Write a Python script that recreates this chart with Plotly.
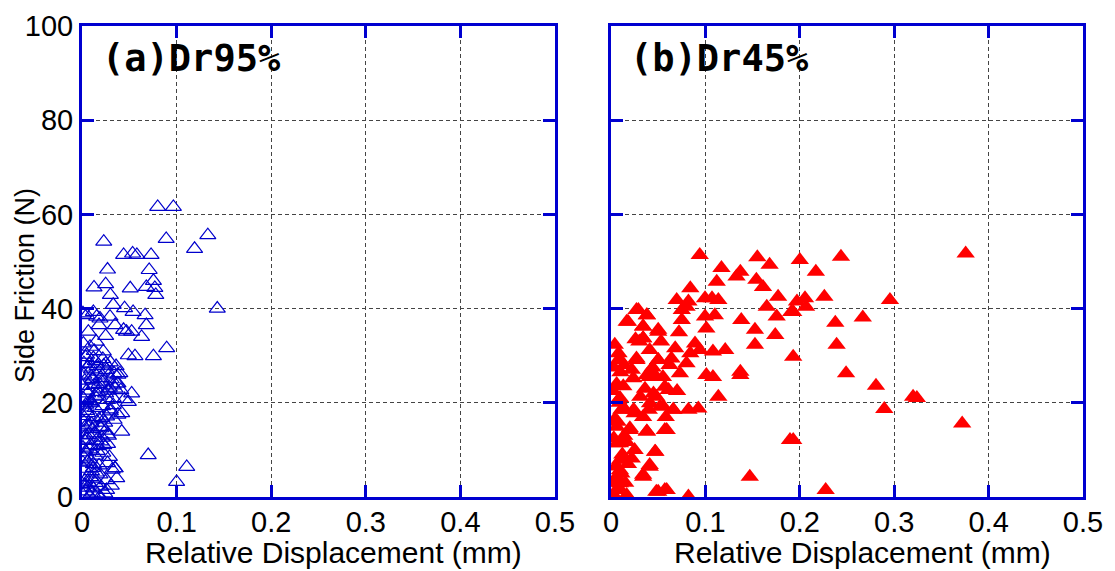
import plotly.graph_objects as go

# Relative displacement (mm) and side friction (N), Dr = 95 %
dr95_disp = [
    0.080, 0.0966, 0.023, 0.089, 0.133, 0.119, 0.044, 0.0535, 0.058, 0.073,
    0.027, 0.071, 0.0755, 0.0127, 0.025, 0.051, 0.068, 0.077, 0.078, 0.030,
    0.143, 0.001, 0.012, 0.033, 0.045, 0.054, 0.0667, 0.019, 0.068, 0.0067,
    0.044, 0.0525, 0.063, 0.0895, 0.0755, 0.056, 0.049, 0.047, 0.035, 0.0296,
    0.005, 0.0155, 0.038, 0.070, 0.1107, 0.100, 0.035, 0.0367, 0.026, 0.019,
    0.0225, 0.0085, 0.0014, 0.015, 0.025, 0.018,
    0.001, 0.004, 0.008, 0.012, 0.016, 0.020, 0.024, 0.003, 0.009, 0.014,
    0.019, 0.026, 0.031, 0.006, 0.011,
    0.002, 0.006, 0.010, 0.014, 0.018, 0.022, 0.027, 0.032, 0.004, 0.012,
    0.029, 0.035, 0.008,
    0.001, 0.005, 0.009, 0.013, 0.017, 0.021, 0.025, 0.003, 0.011, 0.019,
    0.027, 0.007, 0.015,
    0.002, 0.006, 0.010, 0.014, 0.018, 0.022, 0.026, 0.030, 0.004, 0.012,
    0.034, 0.038, 0.033, 0.042, 0.042, 0.024,
    0.001, 0.005, 0.009, 0.013, 0.017, 0.021, 0.025, 0.029, 0.033, 0.037,
    0.041, 0.045, 0.049, 0.0525, 0.003, 0.011, 0.019, 0.027, 0.035, 0.038,
    0.002, 0.006, 0.010, 0.014, 0.018, 0.022, 0.026, 0.030, 0.034, 0.004,
    0.012, 0.020, 0.028, 0.036, 0.040, 0.016, 0.008,
    0.003, 0.007, 0.015, 0.020, 0.028, 0.010, 0.005, 0.017, 0.023, 0.013,
    0.000, 0.002, 0.004, 0.001, 0.003, 0.000, 0.002, 0.005, 0.001, 0.003,
    0.007, 0.009, 0.006, 0.010, 0.008, 0.012, 0.014, 0.011, 0.016, 0.013,
    0.020, 0.018, 0.023, 0.021, 0.025, 0.028, 0.031, 0.027, 0.033, 0.030,
]
dr95_force = [
    61.6, 61.6, 54.2, 54.8, 55.6, 52.7, 51.4, 51.7, 51.4, 51.4,
    48.3, 48.2, 45.9, 44.5, 45.2, 44.3, 44.6, 44.4, 42.9, 42.9,
    40.0, 39.0, 39.3, 40.8, 40.1, 39.3, 38.6, 37.9, 36.5, 35.1,
    35.5, 35.1, 34.0, 31.6, 29.9, 29.9, 30.1, 35.1, 36.5, 38.3,
    38.6, 38.3, 24.1, 8.9, 6.4, 3.2, 6.1, 4.0, 1.5, 0.1,
    30.9, 31.9, 32.6, 33.0, 34.2, 36.5,
    0.5, 1.2, 0.3, 1.8, 0.6, 2.2, 0.8, 3.5, 4.2, 3.0,
    4.8, 3.6, 2.4, 2.0, 0.9,
    6.0, 7.5, 5.5, 8.8, 6.7, 9.4, 7.2, 5.8, 9.5, 7.0,
    8.5, 6.1, 8.0,
    10.5, 12.2, 11.0, 13.5, 10.8, 12.6, 14.1, 14.8, 14.4, 14.9,
    11.3, 13.2, 12.0,
    16.0, 17.8, 15.6, 18.9, 16.5, 19.3, 17.1, 18.6, 19.6, 17.0,
    16.4, 17.5, 19.5, 17.8, 13.9, 15.8,
    21.0, 22.6, 20.4, 23.8, 21.5, 24.5, 22.0, 23.2, 21.0, 24.1,
    22.7, 20.8, 20.2, 22.0, 24.7, 24.9, 23.0, 20.6, 23.0, 26.0,
    26.0, 27.5, 25.6, 28.9, 26.6, 29.3, 27.0, 28.6, 26.2, 29.7,
    29.5, 25.3, 25.8, 27.8, 26.3, 27.8, 28.2,
    2.6, 3.1, 5.2, 11.8, 13.0, 20.1, 18.3, 22.3, 27.9, 31.0,
    2.8, 8.4, 13.1, 17.2, 19.0, 23.6, 28.4, 30.2, 7.3, 11.9,
    15.2, 19.9, 22.0, 27.1, 10.1, 6.2, 21.3, 25.1, 9.8, 3.9,
    14.6, 24.0, 11.0, 16.8, 28.3, 22.6, 25.0, 13.3, 23.7, 18.2,
]

# Relative displacement (mm) and side friction (N), Dr = 45 %
dr45_disp = [
    0.3757, 0.094, 0.155, 0.168, 0.200, 0.2436, 0.217, 0.117, 0.137, 0.133,
    0.154, 0.161, 0.112, 0.084, 0.0996, 0.107, 0.1137, 0.0696, 0.082, 0.177,
    0.165, 0.2055, 0.226, 0.2955, 0.2066, 0.193, 0.2667, 0.2376, 0.239, 0.193,
    0.249, 0.2807, 0.320, 0.324, 0.2895, 0.372, 0.193, 0.2274, 0.197, 0.191,
    0.1755, 0.138, 0.110, 0.0996, 0.075, 0.075, 0.080, 0.029, 0.038, 0.018,
    0.034, 0.050, 0.101, 0.1525, 0.174, 0.1525, 0.004, 0.034, 0.068, 0.089,
    0.121, 0.108, 0.094, 0.084, 0.027, 0.0095, 0.050, 0.064, 0.080, 0.137,
    0.137, 0.1137, 0.108, 0.101, 0.082, 0.0925, 0.066, 0.0554, 0.0413, 0.059,
    0.0466, 0.041, 0.034, 0.050, 0.059, 0.082, 0.147, 0.1896, 0.038, 0.020,
    0.0095, 0.022, 0.0095, 0.0095, 0.004, 0.0166, 0.0148, 0.0095, 0.025, 0.034,
    0.0236, 0.041, 0.057, 0.048, 0.073,
    0.0078, 0.0166, 0.027, 0.038, 0.034, 0.034, 0.050, 0.041, 0.050, 0.027,
    0.022, 0.038, 0.055, 0.061, 0.045, 0.031, 0.0078, 0.011, 0.024, 0.040,
    0.052, 0.066, 0.057, 0.038, 0.020, 0.006, 0.006, 0.0166, 0.025, 0.047,
    0.041, 0.034, 0.0095, 0.006, 0.006, 0.0166, 0.048, 0.057,
    0.002, 0.005, 0.008, 0.012, 0.003, 0.007, 0.011, 0.014, 0.002, 0.006,
    0.010, 0.013, 0.003, 0.008, 0.012, 0.015, 0.018, 0.004, 0.009, 0.014,
    0.030, 0.044, 0.053, 0.062, 0.070, 0.036, 0.046, 0.026, 0.058, 0.072,
]
dr45_force = [
    51.7, 51.4, 50.9, 49.3, 50.3, 51.0, 47.8, 48.6, 47.8, 46.8,
    46.1, 44.6, 45.7, 44.3, 42.2, 42.2, 41.8, 41.8, 41.5, 42.5,
    40.4, 42.2, 42.5, 41.8, 40.4, 39.3, 38.1, 37.0, 32.3, 29.8,
    26.3, 23.6, 21.3, 21.0, 18.7, 15.6, 12.1, 1.5, 41.5, 39.3,
    38.3, 37.6, 38.6, 38.3, 39.7, 37.6, 40.4, 39.7, 38.6, 37.2,
    36.2, 35.1, 35.8, 35.5, 34.4, 32.3, 32.3, 33.7, 31.6, 32.6,
    31.2, 30.9, 31.2, 30.5, 29.4, 29.1, 29.1, 29.4, 28.4, 26.6,
    25.9, 21.3, 25.5, 25.9, 18.5, 18.8, 18.5, 19.2, 19.9, 14.2,
    9.6, 6.8, 4.7, 1.1, 1.5, 0.1, 4.3, 12.1, 13.9, 14.6,
    11.4, 8.2, 5.7, 2.9, 0.1, 0.1, 18.5, 21.0, 17.8, 17.0,
    25.2, 25.5, 23.4, 21.3, 26.3,
    29.1, 37.2, 39.7, 38.6, 36.2, 33.7, 35.5, 31.2, 29.1, 29.1,
    27.0, 25.9, 25.5, 22.7, 22.0, 21.3, 20.6, 18.5, 18.5, 18.5,
    19.2, 18.5, 14.2, 13.9, 14.2, 14.9, 11.4, 11.7, 10.0, 9.6,
    6.4, 4.3, 7.9, 4.3, 1.5, 0.4, 1.1, 1.5,
    3.0, 6.5, 2.0, 9.0, 12.5, 16.0, 5.0, 13.0, 22.5, 24.0,
    26.5, 23.5, 27.5, 30.5, 8.0, 3.0, 7.0, 16.5, 20.0, 28.0,
    33.0, 27.5, 33.0, 28.0, 22.5, 23.0, 26.0, 33.5, 17.0, 35.0,
]

x_ticks = [0, 0.1, 0.2, 0.3, 0.4, 0.5]
x_ticktext = ["0", "0.1", "0.2", "0.3", "0.4", "0.5"]
y_ticks = [0, 20, 40, 60, 80, 100]
panel_labels = ["(a)Dr95%", "(b)Dr45%"]
x_title = "Relative Displacement (mm)"
y_title = "Side Friction (N)"

W, H = 1115, 571
AXIS_BLUE = "#0000D0"
FONT = "Liberation Sans, Arial, sans-serif"

fig = go.Figure()

fig.add_trace(go.Scatter(
    x=dr95_disp, y=dr95_force, mode="markers",
    marker=dict(symbol="triangle-up-open", size=14, color="#0000CC",
                line=dict(width=1.2, color="#0000CC")),
    xaxis="x", yaxis="y", showlegend=False,
))
fig.add_trace(go.Scatter(
    x=dr45_disp, y=dr45_force, mode="markers",
    marker=dict(symbol="triangle-up", size=16, color="#FF0000",
                line=dict(width=0)),
    xaxis="x2", yaxis="y2", showlegend=False,
))

y_dom = [1 - 497 / H, 1 - 26 / H]
x1_dom = [82 / W, 555 / W]
x2_dom = [611 / W, 1083 / W]

common_axis = dict(
    showline=True, linecolor=AXIS_BLUE, linewidth=3, mirror="ticks",
    ticks="inside", ticklen=12, tickwidth=3, tickcolor=AXIS_BLUE,
    showgrid=True, gridcolor="#444444", gridwidth=1, griddash="4px,3px",
    zeroline=False, automargin=False,
    tickfont=dict(family=FONT, size=29, color="black"),
)

fig.update_layout(
    width=W, height=H,
    margin=dict(l=0, r=0, t=0, b=0),
    paper_bgcolor="white", plot_bgcolor="white",
    xaxis=dict(domain=x1_dom, range=[0, 0.5], tickvals=x_ticks, ticktext=x_ticktext,
               anchor="y", ticklabelstandoff=-3, **common_axis),
    yaxis=dict(domain=y_dom, range=[0, 100], tickvals=y_ticks, anchor="x",
               **common_axis),
    xaxis2=dict(domain=x2_dom, range=[0, 0.5], tickvals=x_ticks, ticktext=x_ticktext,
                anchor="y2", ticklabelstandoff=-3, **common_axis),
    yaxis2=dict(domain=y_dom, range=[0, 100], tickvals=y_ticks, anchor="x2",
                showticklabels=False, **common_axis),
)

# axis titles placed as free text under / beside the panels
for xc in [333, 862]:
    fig.add_annotation(
        text=x_title, xref="paper", yref="paper",
        x=xc / W, y=1 - 552 / H, xanchor="center", yanchor="middle",
        showarrow=False, font=dict(family=FONT, size=30, color="black"),
    )
fig.add_annotation(
    text=y_title, xref="paper", yref="paper",
    x=25 / W, y=1 - 286 / H, xanchor="center", yanchor="middle",
    textangle=-90, showarrow=False,
    font=dict(family=FONT, size=27, color="black"),
)

for label, x0 in zip(panel_labels, [100, 628]):
    fig.add_annotation(
        text="<b>" + label + "</b>", xref="paper", yref="paper",
        x=x0 / W, y=1 - 58 / H, xanchor="left", yanchor="middle",
        showarrow=False,
        font=dict(family="DejaVu Sans Mono", size=37, color="black"),
    )

fig.write_html("out.html")
